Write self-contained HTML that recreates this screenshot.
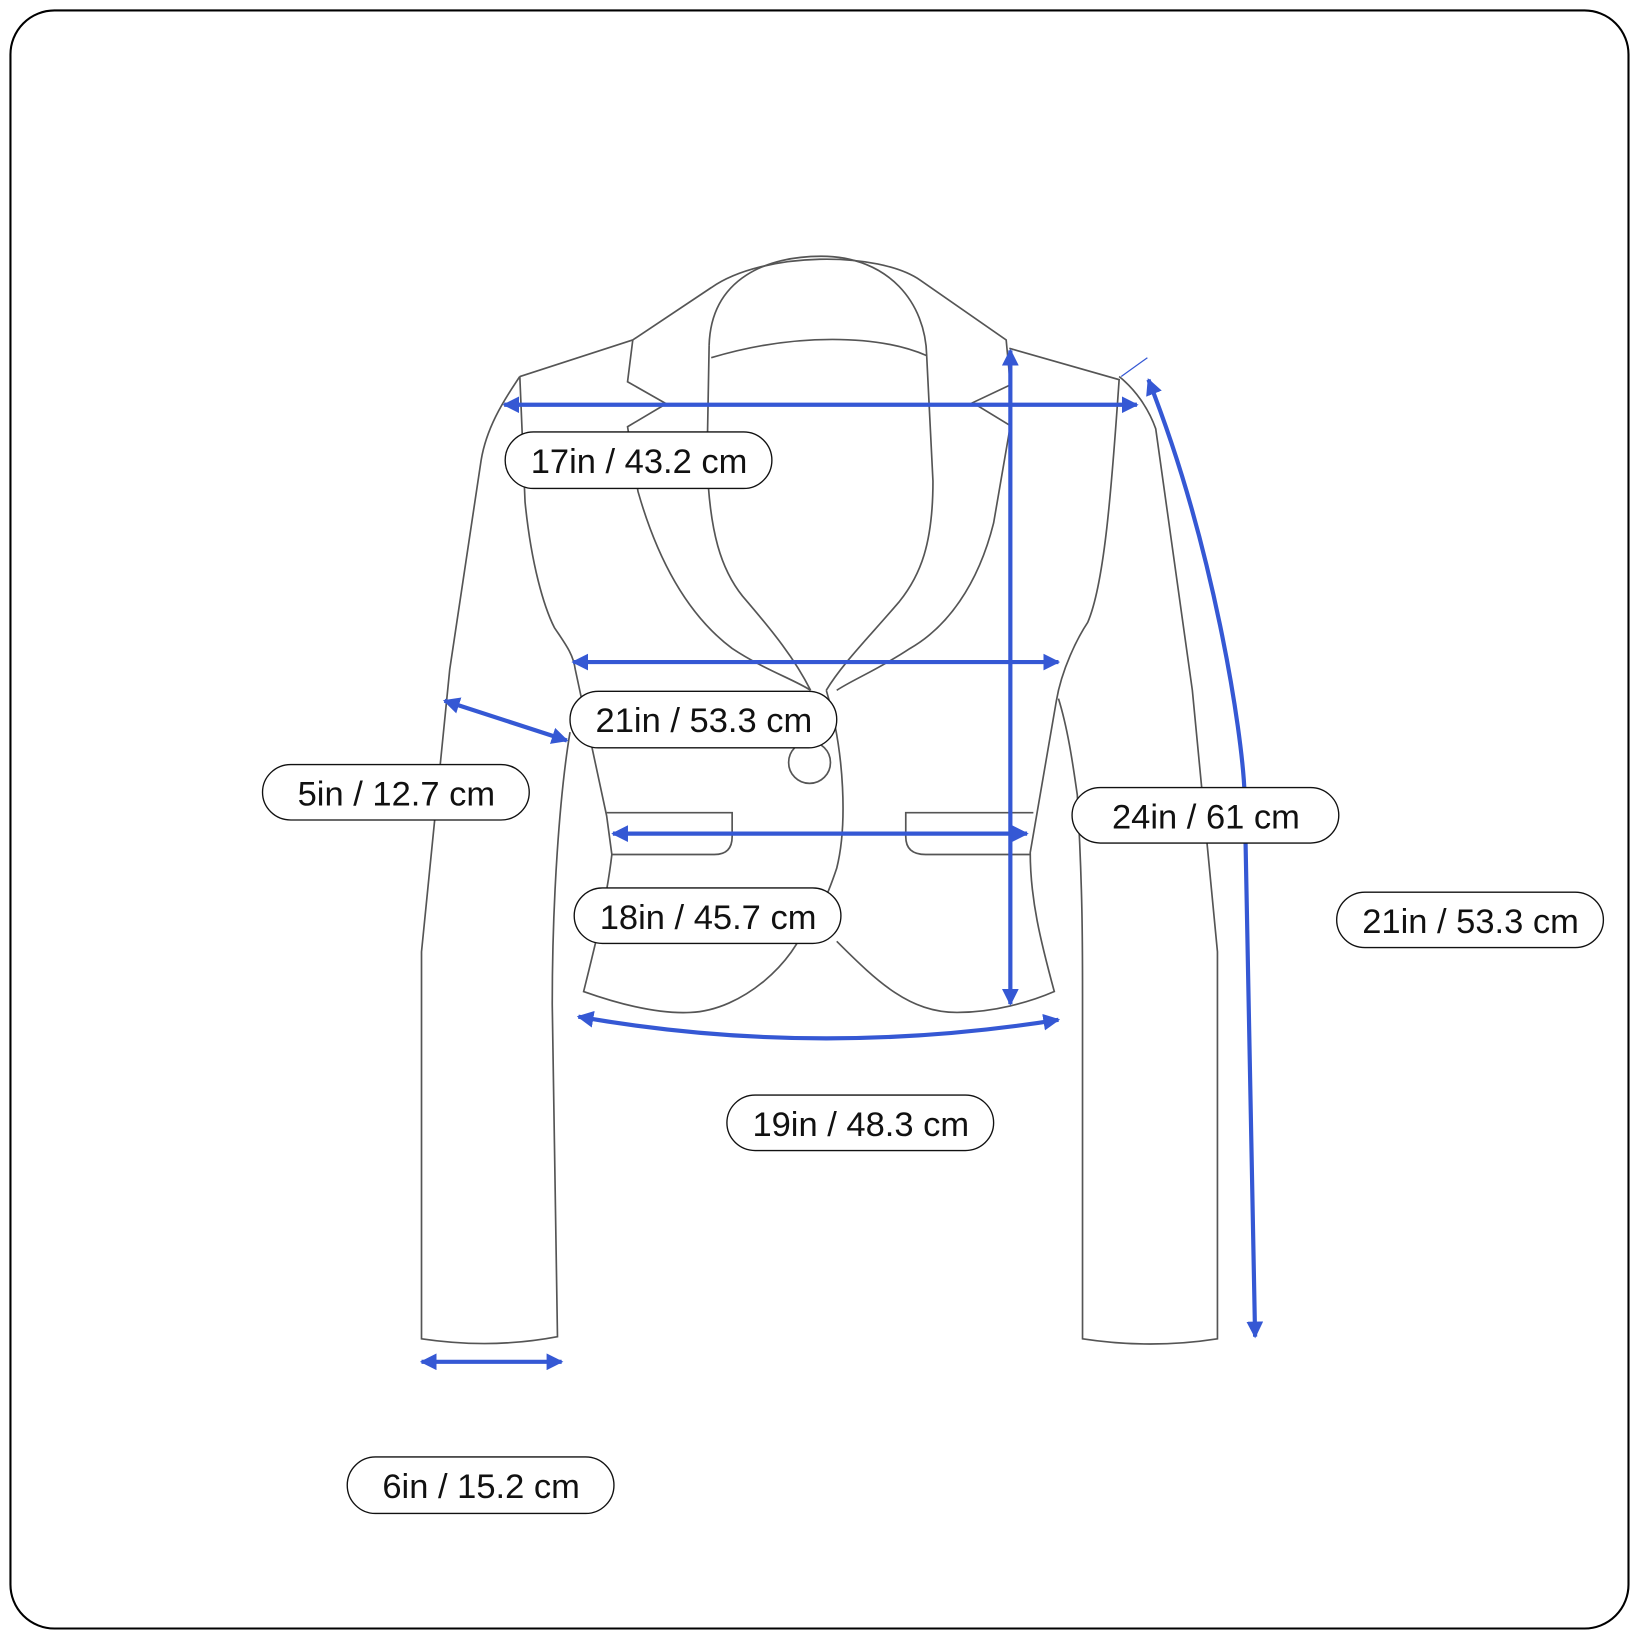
<!DOCTYPE html>
<html><head><meta charset="utf-8"><style>html,body{margin:0;padding:0;background:#fff}svg{display:block}</style></head>
<body>
<svg width="1640" height="1640" viewBox="0 0 1568 1568" xmlns="http://www.w3.org/2000/svg">
<defs>
<marker id="a" viewBox="0 0 10 10" refX="9" refY="5" markerWidth="4" markerHeight="4" orient="auto-start-reverse"><path d="M0,0 L10,5 L0,10 z" fill="#3558d4"/></marker>
</defs>
<rect x="10" y="10" width="1547" height="1547" rx="42" fill="#fff" stroke="#000" stroke-width="2"/>
<g fill="none" stroke="#555" stroke-width="1.6">
<path d="M497,360 C480,385 465,410 460,440 L430,640 L403,910 L403,1280 Q470,1290 533,1278 L528,960 C528,860 535,760 545,700"/>
<path d="M497,360 L502,480 C508,540 520,580 530,600 C540,615 548,625 550,640 L580,780 L585,817 C580,860 570,900 558,948 Q620,970 660,968 C710,966 760,920 772,880"/>
<path d="M605,325 L497,360"/>
<path d="M790,660 C808,720 810,790 800,830 C790,860 780,880 772,880"/>
<path d="M800,900 C840,940 870,968 915,968 C950,968 985,958 1008,948 C995,900 985,860 985,815 L1010,670 C1015,640 1030,610 1040,595 C1055,560 1062,480 1070,363 L965,333"/>
<path d="M1012,668 C1022,700 1027,740 1030,760 C1035,850 1035,900 1035,950 L1035,1280 Q1100,1290 1164,1280 L1164,910 L1140,660 L1105,410 C1098,390 1085,372 1070,360"/>
<path d="M605,325 L600,365 L637,386 L600,408 L610,470 C630,540 660,590 700,620 C730,640 760,650 775,660"/>
<path d="M605,325 L680,275 C730,240 840,240 880,268 L962,325 L966,368 L930,385 L966,407 L950,500 C935,560 905,600 870,620 C840,640 815,650 800,660"/>
<path d="M680,342 C760,318 840,320 886,340"/>
<path d="M678,330 C680,265 735,245 785,245 C850,245 885,290 886,340 L892,460 C892,520 880,550 860,575 C830,610 805,635 790,660"/>
<path d="M678,330 L676,440 C678,510 690,545 710,570 C740,605 760,630 775,660"/>
<circle cx="774" cy="729" r="20"/>
<path d="M580,777 L700,777 L700,800 Q700,817 683,817 L585,817"/>
<path d="M988,777 L866,777 L866,800 Q866,817 885,817 L985,817"/>
</g>
<line x1="1072" y1="360" x2="1097" y2="342" stroke="#3558d4" stroke-width="1.2"/>
<g fill="none" stroke="#3558d4" stroke-width="4" marker-start="url(#a)" marker-end="url(#a)">
<path d="M482,387 L1087,387"/>
<path d="M966,335 L966,960"/>
<path d="M548,633 L1012,633"/>
<path d="M586,797 L982,797"/>
<path d="M553,972 Q780,1012 1012,975"/>
<path d="M425,670 L542,708"/>
<path d="M403,1302 L537,1302"/>
<path d="M1098,363 C1160,520 1188,700 1190,760 L1200,1278"/>
</g>
<g font-family="Liberation Sans, sans-serif" font-size="33" text-anchor="middle" fill="#111">
<g fill="#fff" stroke="#111" stroke-width="1.3">
<rect x="483" y="413" width="255" height="54" rx="27"/>
<rect x="545" y="661" width="255" height="54" rx="27"/>
<rect x="251" y="731" width="255" height="53" rx="27"/>
<rect x="1025" y="753" width="255" height="53" rx="27"/>
<rect x="549" y="849" width="255" height="53" rx="27"/>
<rect x="1278" y="853" width="255" height="53" rx="27"/>
<rect x="695" y="1047" width="255" height="53" rx="27"/>
<rect x="332" y="1393" width="255" height="54" rx="27"/>
</g>
<text x="611" y="452">17in / 43.2 cm</text>
<text x="673" y="700">21in / 53.3 cm</text>
<text x="379" y="770">5in / 12.7 cm</text>
<text x="1153" y="792">24in / 61 cm</text>
<text x="677" y="888">18in / 45.7 cm</text>
<text x="1406" y="892">21in / 53.3 cm</text>
<text x="823" y="1086">19in / 48.3 cm</text>
<text x="460" y="1432">6in / 15.2 cm</text>
</g>
</svg>
</body></html>
